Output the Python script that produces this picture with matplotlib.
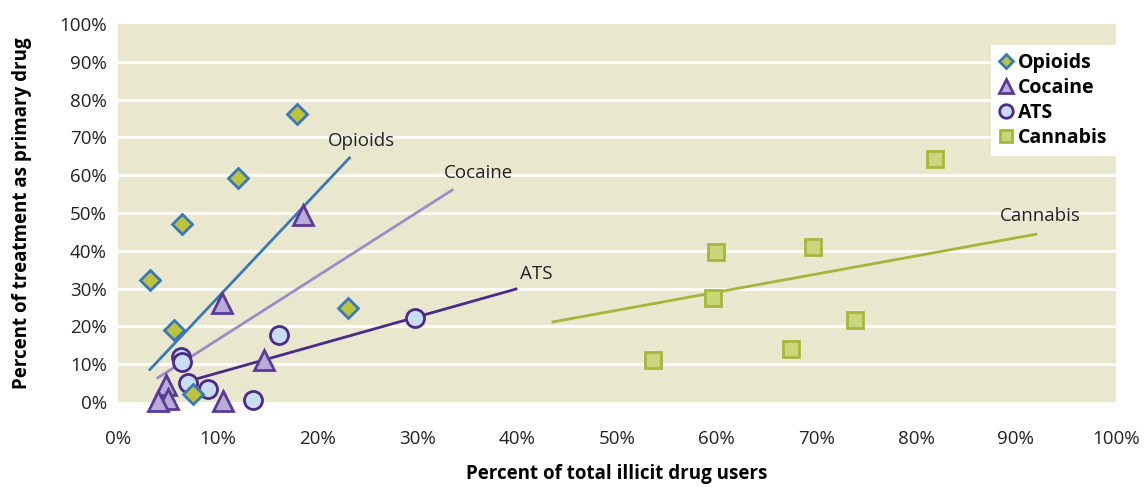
import matplotlib
matplotlib.use("Agg")
import matplotlib.pyplot as plt
from matplotlib.ticker import PercentFormatter

plt.rcParams['font.family'] = ['Open Sans', 'DejaVu Sans']

# values in percent
opioids_x = [17.9, 12.0, 6.4, 3.2, 5.6, 23.1, 7.5]
opioids_y = [76.2, 59.2, 47.0, 32.4, 19.0, 24.8, 2.0]

cocaine_x = [18.5, 10.4, 14.6, 4.8, 5.0, 4.0, 10.5]
cocaine_y = [49.5, 26.2, 11.2, 4.6, 0.8, 0.2, 0.3]

ats_x = [29.8, 16.1, 6.3, 6.4, 7.0, 9.0, 13.5]
ats_y = [22.1, 17.7, 12.0, 10.7, 5.1, 3.4, 0.5]

cannabis_x = [81.9, 59.9, 69.7, 59.6, 73.9, 67.5, 53.6]
cannabis_y = [64.3, 39.7, 41.0, 27.5, 21.7, 13.9, 11.1]

# trend line end points (x0, x1), (y0, y1)
trend_opioids = ([3.2, 23.2], [8.6, 64.6])
trend_cocaine = ([4.0, 33.5], [6.4, 56.1])
trend_ats = ([6.5, 39.9], [5.1, 29.9])
trend_cannabis = ([43.6, 92.0], [21.2, 44.4])

x_ticks = list(range(0, 101, 10))
y_ticks = list(range(0, 101, 10))

bg = '#e9e8cf'

fig = plt.figure(figsize=(11.48, 4.87), dpi=100)
ax = fig.add_axes([0.1028, 0.1745, 0.869, 0.776])
ax.set_facecolor(bg)
for s in ax.spines.values():
    s.set_visible(False)

for yv in y_ticks[1:-1]:
    ax.axhline(yv, color='white', lw=2, zorder=1)

# trend lines, label offset relative to the line end
lines = [
    (trend_opioids, '#3c78b8', 'Opioids', (-2.2, 2.0)),
    (trend_cocaine, '#9c8cc6', 'Cocaine', (-0.8, 2.0)),
    (trend_ats, '#4b2a88', 'ATS', (0.4, 1.5)),
    (trend_cannabis, '#a5b53c', 'Cannabis', (-3.6, 2.5)),
]
for (tx, ty), col, name, off in lines:
    ax.plot(tx, ty, color=col, lw=2, zorder=2)
    ax.text(tx[1] + off[0], ty[1] + off[1], name, fontsize=13.5,
            color='#222222', ha='left', va='bottom', zorder=5)

ax.plot(cocaine_x, cocaine_y, '^', ms=14, mfc='#b9abd7', mec='#5a3a96',
        mew=2, ls='none', zorder=3, label='Cocaine', clip_on=False)
ax.plot(ats_x, ats_y, 'o', ms=13, mfc='#c8dcf2', mec='#4b2a88',
        mew=2, ls='none', zorder=4, label='ATS', clip_on=False)
ax.plot(opioids_x, opioids_y, 'D', ms=10, mfc='#bcc43c', mec='#3c78b8',
        mew=2, ls='none', zorder=4, label='Opioids', clip_on=False)
ax.plot(cannabis_x, cannabis_y, 's', ms=12, mfc='#cad67c', mec='#a5b83c',
        mew=2, ls='none', zorder=3, label='Cannabis', clip_on=False)

ax.set_xlim(0, 100)
ax.set_ylim(0, 100)
ax.set_xticks(x_ticks)
ax.set_yticks(y_ticks)
ax.xaxis.set_major_formatter(PercentFormatter(decimals=0))
ax.yaxis.set_major_formatter(PercentFormatter(decimals=0))
ax.tick_params(length=0, labelsize=13.5, colors='#222222')
ax.tick_params(axis='x', pad=20)
ax.tick_params(axis='y', pad=8)

ax.set_xlabel('Percent of total illicit drug users', fontsize=13.5,
              fontweight='bold', labelpad=12)
ax.set_ylabel('Percent of treatment as primary drug', fontsize=13.5,
              fontweight='bold', labelpad=20)

h, l = ax.get_legend_handles_labels()
order = [l.index(n) for n in ['Opioids', 'Cocaine', 'ATS', 'Cannabis']]
leg = ax.legend([h[i] for i in order], [l[i] for i in order],
                loc='upper right', bbox_to_anchor=(1.0, 0.945),
                frameon=True, fancybox=False, framealpha=1,
                edgecolor='white', facecolor='white',
                prop={'weight': 'bold', 'size': 14},
                handlelength=0.7, handletextpad=0.25, labelspacing=0.26,
                borderpad=0.42, borderaxespad=0, markerscale=0.75)
leg.get_frame().set_linewidth(0)
leg.set_zorder(6)

fig.savefig('out.png', dpi=100)
